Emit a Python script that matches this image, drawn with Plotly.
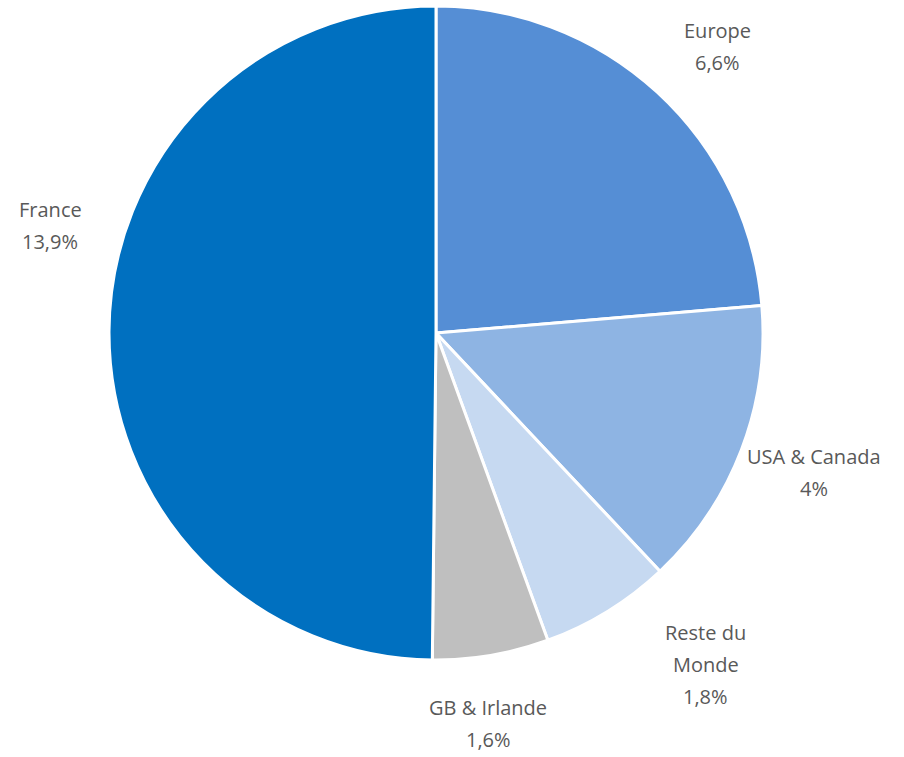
import math
import plotly.graph_objects as go

# Répartition par zone géographique (%)
zones = ["Europe", "USA & Canada", "Reste du Monde", "GB & Irlande", "France"]
valeurs = [6.6, 4, 1.8, 1.6, 13.9]
etiquettes = [["Europe"], ["USA & Canada"], ["Reste du", "Monde"], ["GB & Irlande"], ["France"]]
couleurs = ["#558ED5", "#8EB4E3", "#C6D9F1", "#BFBFBF", "#0070C0"]

W, H = 904, 757
cx, cy, r = 436, 333, 327  # centre et rayon en pixels

# Décalages (px) appliqués aux étiquettes pour éviter les chevauchements
decalages = [(11, 8), (4, -4), (60, -9), (-15, -4), (14, -105)]
interligne = 32
r_lab = 400

fig = go.Figure(go.Pie(
    labels=zones,
    values=valeurs,
    sort=False,
    direction="clockwise",
    rotation=0,
    textinfo="none",
    hoverinfo="label+value",
    marker=dict(colors=couleurs, line=dict(color="white", width=3)),
    domain=dict(x=[(cx - r) / W, (cx + r) / W],
                y=[1 - (cy + r) / H, 1 - (cy - r) / H]),
    showlegend=False,
))

# Étiquettes placées à l'extérieur, autour du milieu de chaque secteur
total = sum(valeurs)
cumul = 0.0
for lignes, v, (dx, dy) in zip(etiquettes, valeurs, decalages):
    mid = (cumul + v / 2) / total * 2 * math.pi
    cumul += v
    px = cx + r_lab * math.sin(mid) + dx
    py = cy - r_lab * math.cos(mid) + dy
    textes = lignes + [f"{v:g}%".replace(".", ",")]
    n = len(textes)
    for i, t in enumerate(textes):
        ly = py + (i - (n - 1) / 2) * interligne
        fig.add_annotation(
            x=px / W, y=1 - ly / H, xref="paper", yref="paper",
            text=t, showarrow=False, xanchor="center", yanchor="middle",
            font=dict(size=20, color="#595959"),
        )

fig.update_layout(
    width=W, height=H,
    margin=dict(l=0, r=0, t=0, b=0),
    paper_bgcolor="white",
    plot_bgcolor="white",
    font=dict(family="Open Sans, Liberation Sans, sans-serif", color="#595959"),
    separators=", ",
)

fig.write_html("out.html")
